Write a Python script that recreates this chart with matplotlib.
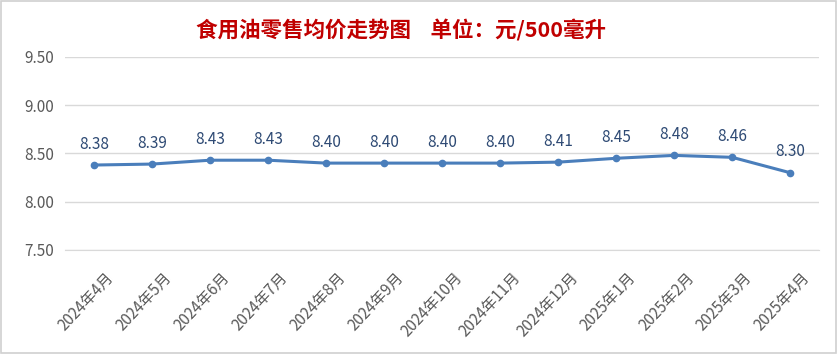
import matplotlib
matplotlib.use("Agg")
import matplotlib.pyplot as plt
import matplotlib.transforms as mtransforms
from matplotlib.patches import Rectangle

plt.rcParams['font.family'] = ['Noto Sans CJK SC', 'DejaVu Sans']

categories = ["2024年4月", "2024年5月", "2024年6月", "2024年7月", "2024年8月", "2024年9月",
              "2024年10月", "2024年11月", "2024年12月", "2025年1月", "2025年2月", "2025年3月", "2025年4月"]
values = [8.38, 8.39, 8.43, 8.43, 8.40, 8.40, 8.40, 8.40, 8.41, 8.45, 8.48, 8.46, 8.30]
yticks = [7.50, 8.00, 8.50, 9.00, 9.50]
title = "食用油零售均价走势图    单位：元/500毫升"

fig = plt.figure(figsize=(8.38, 3.54), dpi=100)
ax = fig.add_axes([0.0776, 0.294, 0.9, 0.545])

x = list(range(len(categories)))
ax.plot(x, values, color='#4A7EBB', lw=2.2, marker='o', ms=4.5, zorder=3)
for xi, v in zip(x, values):
    ax.annotate(f"{v:.2f}", (xi, v), xytext=(0, 9), textcoords='offset points',
                ha='center', va='bottom', fontsize=11, color='#2E4A74')

ax.set_xlim(-0.5, len(categories) - 0.5)
ax.set_ylim(7.5, 9.5)
ax.set_yticks(yticks)
ax.set_yticklabels([f"{t:.2f}" for t in yticks], fontsize=11, color='#595959')
ax.yaxis.grid(True, color='#D9D9D9', lw=1)
ax.set_axisbelow(True)
for s in ['top', 'right', 'left']:
    ax.spines[s].set_visible(False)
ax.spines['bottom'].set_color('#D9D9D9')
ax.tick_params(axis='y', length=0, pad=8)
ax.tick_params(axis='x', length=0, pad=14)
ax.set_xticks(x)
labels = ax.set_xticklabels(categories, rotation=47, ha='right', rotation_mode='anchor',
                            fontsize=11, color='#595959')
offset = mtransforms.ScaledTranslation(0.11, 0, fig.dpi_scale_trans)
for lab in labels:
    lab.set_transform(lab.get_transform() + offset)

fig.text(0.479, 0.915, title, ha='center', va='center', fontsize=15.5,
         color='#C00000', fontweight='bold')

fig.patches.append(Rectangle((0.001, 0.003), 0.997, 0.994, transform=fig.transFigure,
                             fill=False, edgecolor='#D0D0D0', lw=1.2))

fig.savefig("out.png", dpi=100)
